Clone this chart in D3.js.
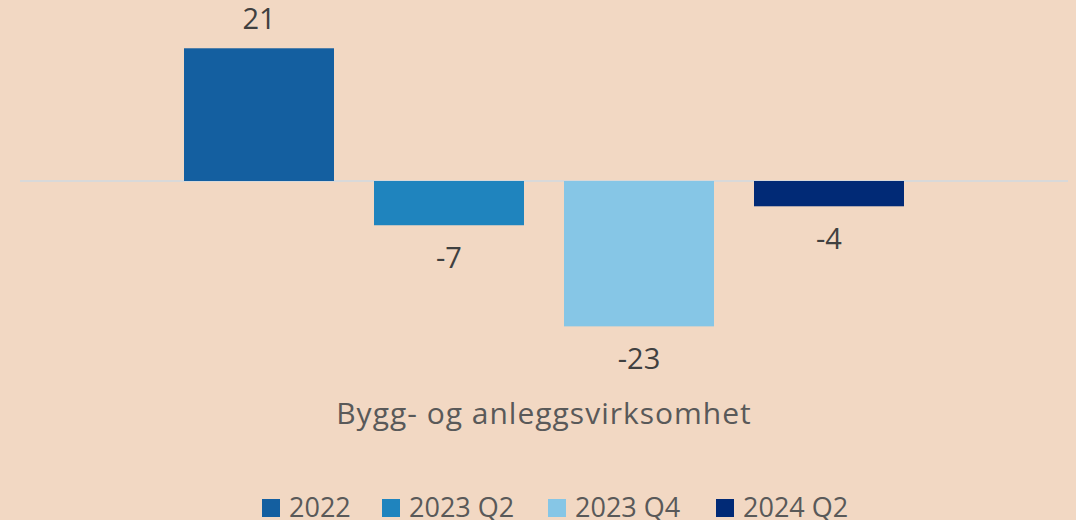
<!DOCTYPE html>
<html><head><meta charset="utf-8">
<script src="https://cdn.jsdelivr.net/npm/d3@7"></script>
<style>html,body{margin:0;padding:0;background:#F2D8C3;}svg{display:block;font-family:"Open Sans",sans-serif;}</style>
</head><body>
<svg id="c" width="1076" height="520"></svg>
<script>
const category = "Bygg- og anleggsvirksomhet";
const series = ["2022", "2023 Q2", "2023 Q4", "2024 Q2"];
const values = [21, -7, -23, -4];
const colors = ["#145FA0", "#1F84BE", "#86C6E6", "#012A76"];

const svg = d3.select("#c");
svg.append("rect").attr("width",1076).attr("height",520).attr("fill","#F2D8C3");

const x = d3.scaleBand().domain(series).range([164, 924]).paddingInner(40/190).paddingOuter(20/190);
const y = d3.scaleLinear().domain([-30, 25]).range([181 + 30*6.32, 181 - 25*6.32]);

svg.append("line").attr("x1",20).attr("x2",1068).attr("y1",y(0)).attr("y2",y(0))
  .attr("stroke","#D9D9D9").attr("stroke-width",2);

svg.selectAll("rect.bar").data(series).join("rect").attr("class","bar")
  .attr("x", d=>x(d)).attr("width", x.bandwidth())
  .attr("y", (d,i)=>Math.min(y(values[i]), y(0)))
  .attr("height", (d,i)=>Math.abs(y(values[i]) - y(0)))
  .attr("fill", (d,i)=>colors[i]);

svg.selectAll("text.val").data(series).join("text").attr("class","val")
  .attr("x", d=>x(d)+x.bandwidth()/2)
  .attr("y", (d,i)=> values[i] >= 0 ? y(values[i]) - 19 : y(values[i]) + 43)
  .attr("text-anchor","middle").attr("font-size",29).attr("fill","#404040")
  .text((d,i)=>values[i]);

svg.append("text").attr("x",544).attr("y",424).attr("text-anchor","middle")
  .attr("font-size",30).attr("letter-spacing",1).attr("fill","#595959").text(category);

const legX = [262, 382, 548, 716];
const lg = svg.selectAll("g.leg").data(series).join("g").attr("class","leg")
  .attr("transform",(d,i)=>`translate(${legX[i]},0)`);
lg.append("rect").attr("x",0).attr("y",499).attr("width",18).attr("height",18).attr("fill",(d,i)=>colors[i]);
lg.append("text").attr("x",27).attr("y",517).attr("font-size",27).attr("fill","#595959").text(d=>d);
</script>
</body></html>
